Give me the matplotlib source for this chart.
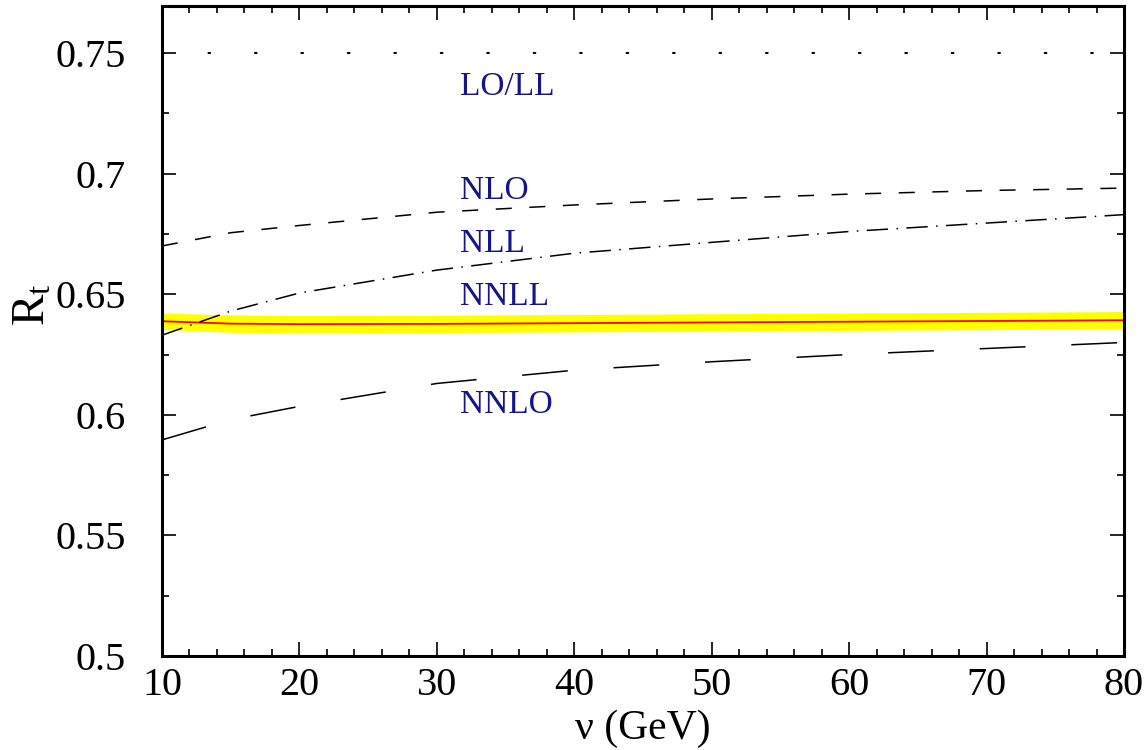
import matplotlib
matplotlib.use("Agg")
from matplotlib import pyplot as plt
import numpy as np

# Echelle nu (GeV)
nu = [10, 15, 20, 30, 40, 50, 60, 70, 80]

# Courbes
r_lo = [0.75, 0.75, 0.75, 0.75, 0.75, 0.75, 0.75, 0.75, 0.75]
r_nlo = [0.670, 0.6755, 0.6785, 0.6840, 0.6870, 0.6895, 0.6915, 0.6930, 0.6940]
r_nll = [0.633, 0.643, 0.6505, 0.660, 0.667, 0.6715, 0.676, 0.6795, 0.683]
r_nnlo = [0.5896, 0.598, 0.6035, 0.613, 0.6185, 0.622, 0.625, 0.6275, 0.630]
r_nnll = [0.6388, 0.6378, 0.6376, 0.6377, 0.6380, 0.6383, 0.6386, 0.6389, 0.6392]
r_nnll_err = [0.0034, 0.0036, 0.0036, 0.0036, 0.0036, 0.0036, 0.0036, 0.0036, 0.0036]

# Etiquettes des courbes : (texte, nu, R)
etiquettes = [("LO/LL", 31.7, 0.736), ("NLO", 31.7, 0.693), ("NLL", 31.7, 0.671),
              ("NNLL", 31.7, 0.649), ("NNLO", 31.7, 0.604)]

plt.rcParams['font.family'] = ['Liberation Serif', 'DejaVu Serif']
plt.rcParams['mathtext.fontset'] = 'custom'
plt.rcParams['mathtext.rm'] = 'Liberation Serif'
plt.rcParams['mathtext.it'] = 'Liberation Serif:italic'

fig = plt.figure(figsize=(11.48, 7.5), dpi=100)
ax = fig.add_axes([162/1148, 1 - 656/750, (1124-162)/1148, 650/750])

bas = np.array(r_nnll) - np.array(r_nnll_err)
haut = np.array(r_nnll) + np.array(r_nnll_err)
ax.fill_between(nu, bas, haut, color='#ffff00', lw=0, zorder=1)
ax.plot(nu, r_nnll, color='red', lw=1.3, zorder=2)

ax.plot(nu, r_lo, color='k', lw=1.5, dashes=(0.8, 21.5), dash_capstyle='round')
ax.plot(nu, r_nlo, color='k', lw=1.1, dashes=(10.5, 11.5))
ax.plot(nu, r_nll, color='k', lw=1.1, dashes=(14, 5.5, 1, 5.5))
ax.plot(nu, r_nnlo, color='k', lw=1.1, dashes=(30, 30))

for txt, x, y in etiquettes:
    ax.text(x, y, txt, color='#14148c', fontsize=24, ha='left', va='center')

ax.set_xlim(10, 80)
ax.set_ylim(0.5, 0.7695)
ax.set_xticks([10, 20, 30, 40, 50, 60, 70, 80])
ax.set_xticks(np.arange(10, 81, 2), minor=True)
ax.set_yticks([0.5, 0.55, 0.6, 0.65, 0.7, 0.75])
ax.set_yticklabels(['0.5', '0.55', '0.6', '0.65', '0.7', '0.75'])
ax.set_yticks(np.arange(0.5, 0.77, 0.025), minor=True)

ax.tick_params(which='both', direction='in', top=True, right=True, width=1.2)
ax.tick_params(which='major', length=10, labelsize=29)
ax.tick_params(which='minor', length=5)
ax.tick_params(axis='y', which='major', pad=26)
ax.tick_params(axis='x', which='major', pad=8)
for s in ax.spines.values():
    s.set_linewidth(2.2)

ax.set_xlabel('ν (GeV)', fontsize=30, labelpad=4)
ax.set_ylabel(r'$\mathrm{R_t}$', fontsize=34)
ax.yaxis.set_label_coords(-0.112, 0.54)

fig.savefig('out.png', dpi=100)
